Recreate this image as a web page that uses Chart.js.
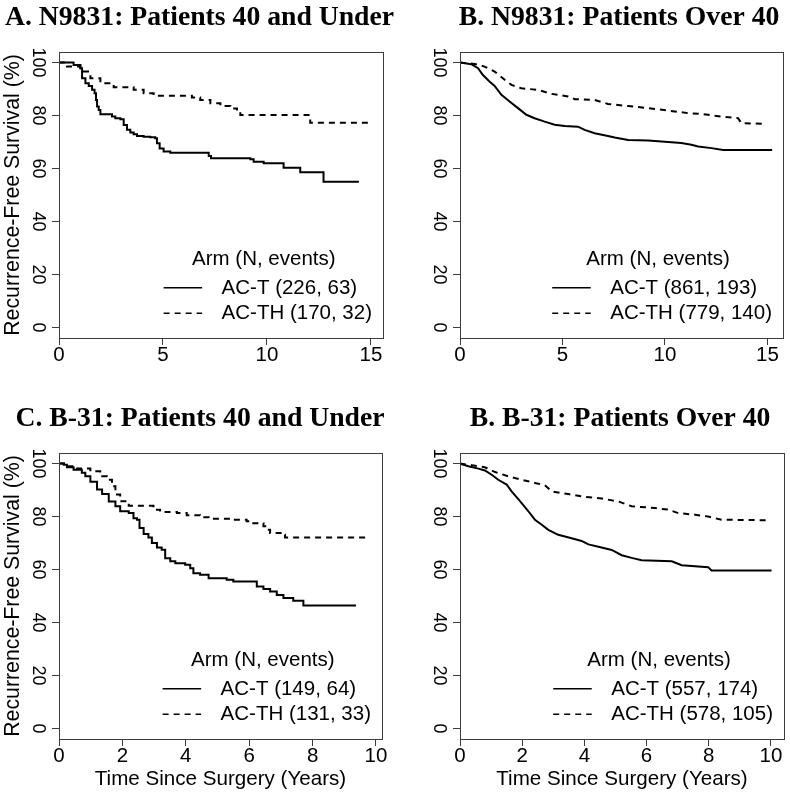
<!DOCTYPE html>
<html><head><meta charset="utf-8">
<script src="https://cdn.jsdelivr.net/npm/chart.js@4.4.1/dist/chart.umd.min.js"></script>
<style>
html,body{margin:0;padding:0;background:#fff;width:790px;height:795px;overflow:hidden;position:relative;}
.panel{position:absolute;}
canvas{display:block;}
</style></head><body>
<div class="panel" style="left:0;top:0;width:395px;height:395px"><canvas id="cA" width="395" height="395"></canvas></div>
<div class="panel" style="left:395px;top:0;width:395px;height:395px"><canvas id="cB" width="395" height="395"></canvas></div>
<div class="panel" style="left:0;top:401px;width:395px;height:394px"><canvas id="cC" width="395" height="394"></canvas></div>
<div class="panel" style="left:395px;top:401px;width:395px;height:394px"><canvas id="cD" width="395" height="394"></canvas></div>
<script>
// ---------- text ----------
const panelTitles = ['A. N9831: Patients 40 and Under', 'B. N9831: Patients Over 40', 'C. B-31: Patients 40 and Under', 'B. B-31: Patients Over 40'];
const legendTitle = 'Arm (N, events)';
const legendA = ['AC-T (226, 63)', 'AC-TH (170, 32)'];
const legendB = ['AC-T (861, 193)', 'AC-TH (779, 140)'];
const legendC = ['AC-T (149, 64)', 'AC-TH (131, 33)'];
const legendD = ['AC-T (557, 174)', 'AC-TH (578, 105)'];
const yAxisTitle = 'Recurrence-Free Survival (%)';
const xAxisTitle = 'Time Since Surgery (Years)';

// ---------- ticks ----------
const yTicks = [0, 20, 40, 60, 80, 100];
const xTicksN9831 = [0, 5, 10, 15];
const xTicksB31 = [0, 2, 4, 6, 8, 10];

// ---------- A: N9831, 40 and under ----------
const timeA_ACT = [0, 0.7, 1.03, 1.11, 1.27, 1.43, 1.59, 1.71, 1.78, 1.83, 1.91, 1.99, 2.55, 2.71, 2.95, 3.11, 3.27, 3.43, 3.59, 3.75, 4.07, 4.39, 4.63, 4.71, 4.84, 5.03, 5.35, 7.2, 7.31, 9.2, 9.36, 9.84, 10.8, 11.6, 12.72, 14.42];
const survA_ACT = [100, 99.1, 97.9, 94.1, 92.2, 91.2, 89.7, 88.4, 85.9, 83.4, 82.1, 80.5, 79.6, 79.0, 78.6, 76.4, 74.6, 73.6, 72.9, 72.3, 72.0, 71.8, 71.4, 69.5, 67.6, 66.4, 66.0, 64.7, 63.9, 63.5, 62.6, 62.0, 60.3, 58.6, 55.0, 55.0];
const timeA_ACTH = [0, 0.38, 1.03, 1.51, 1.99, 2.63, 3.59, 4.07, 4.55, 6.39, 6.79, 7.28, 7.76, 8.24, 8.56, 8.72, 12.08, 15.0];
const survA_ACTH = [100, 98.5, 96.6, 94.1, 92.2, 90.7, 89.7, 88.4, 87.5, 86.8, 85.9, 84.6, 83.6, 82.7, 81.5, 80.2, 77.3, 77.3];

// ---------- B: N9831, over 40 ----------
const timeB_ACT = [0, 0.55, 0.88, 1.12, 1.45, 1.69, 2.02, 2.42, 2.83, 3.24, 3.64, 4.13, 4.62, 5.11, 5.76, 6.08, 6.57, 7.22, 7.55, 8.2, 9.18, 9.83, 10.8, 11.29, 11.62, 12.27, 12.84, 15.23];
const survB_ACT = [100, 99.4, 97.9, 95.3, 92.8, 91.2, 87.8, 85.3, 82.8, 80.3, 79.0, 77.7, 76.5, 76.1, 75.8, 74.6, 73.3, 72.3, 71.7, 70.8, 70.6, 70.2, 69.6, 69.0, 68.3, 67.7, 67.0, 67.0];
const timeB_ACTH = [0, 0.72, 1.2, 1.69, 2.18, 2.51, 2.99, 3.81, 4.46, 5.27, 5.6, 6.57, 7.22, 8.2, 9.18, 10.15, 11.13, 11.78, 12.1, 12.75, 13.57, 13.73, 14.95];
const survB_ACTH = [100, 99.5, 98.5, 96.6, 93.5, 91.6, 90.3, 89.7, 88.2, 87.2, 86.2, 85.9, 84.4, 83.6, 82.8, 81.9, 80.9, 80.6, 80.3, 79.6, 79.0, 77.1, 76.9];

// ---------- C: B-31, 40 and under ----------
const timeC_ACT = [0, 0.15, 0.25, 0.46, 0.72, 0.83, 0.99, 1.2, 1.36, 1.57, 1.78, 1.93, 2.2, 2.35, 2.46, 2.54, 2.67, 2.82, 2.93, 3.09, 3.24, 3.35, 3.51, 3.67, 3.98, 4.14, 4.24, 4.45, 4.72, 5.29, 5.5, 6.24, 6.45, 6.66, 6.87, 7.08, 7.39, 7.71, 9.37];
const survC_ACT = [100, 99.6, 98.6, 97.7, 96.5, 95.2, 93.1, 90.2, 88.5, 85.7, 83.9, 82.0, 81.3, 79.4, 78.8, 75.7, 73.4, 72.1, 70.0, 68.3, 67.5, 64.3, 63.1, 62.4, 61.8, 60.5, 58.6, 58.0, 56.7, 56.1, 55.5, 53.6, 52.6, 51.7, 50.4, 49.2, 48.2, 46.4, 46.4];
const timeC_ACTH = [0, 0.25, 0.57, 0.99, 1.3, 1.51, 1.67, 1.78, 1.93, 2.2, 2.98, 3.19, 3.72, 4.03, 4.45, 4.72, 5.5, 5.92, 6.13, 6.45, 6.55, 6.66, 7.08, 7.13, 9.74];
const survC_ACTH = [100, 99.0, 98.1, 97.1, 95.2, 93.9, 91.4, 88.3, 85.8, 84.1, 82.6, 81.7, 81.3, 80.5, 79.7, 79.2, 78.8, 78.2, 77.5, 76.3, 75.0, 73.8, 73.1, 72.1, 72.1];

// ---------- D: B-31, over 40 ----------
const timeD_ACT = [0, 0.27, 0.59, 0.8, 1.02, 1.23, 1.5, 1.66, 1.93, 2.2, 2.41, 2.63, 2.84, 3.16, 3.59, 3.91, 4.13, 4.45, 4.88, 5.2, 5.52, 5.84, 6.81, 7.13, 7.98, 8.09, 10.02];
const survD_ACT = [100, 99.0, 98.1, 97.4, 95.8, 93.9, 92.1, 89.5, 85.8, 82.0, 78.8, 76.9, 75.0, 73.1, 71.8, 70.8, 69.5, 68.6, 67.4, 65.4, 64.4, 63.5, 63.1, 61.6, 60.9, 59.6, 59.6];
const timeD_ACTH = [0, 0.38, 0.8, 1.13, 1.55, 1.98, 2.41, 2.73, 2.95, 3.48, 3.91, 4.56, 5.09, 5.52, 6.27, 6.7, 7.02, 7.56, 7.98, 8.41, 9.91];
const survD_ACTH = [100, 99.4, 98.6, 96.8, 95.2, 93.9, 92.7, 91.8, 89.5, 88.5, 87.6, 86.8, 85.7, 83.9, 83.2, 82.6, 81.3, 80.7, 80.0, 78.8, 78.6];

// ---------- rendering ----------
const SANS = '"Liberation Sans", Arial, Helvetica, sans-serif';
const SERIF = '"Liberation Serif", "Times New Roman", serif';
const toXY = (t, s) => t.map((v, i) => ({x: v, y: s[i]}));

const decorPlugin = {
  id: 'panelDecor',
  afterDraw(chart, args, o) {
    const ctx = chart.ctx, a = chart.chartArea;
    ctx.save();
    ctx.setLineDash([]);
    ctx.strokeStyle = '#3c3c3c';
    ctx.lineWidth = 1;
    ctx.strokeRect(Math.round(a.left) + 0.5, Math.round(a.top) + 0.5, Math.round(a.right - a.left), Math.round(a.bottom - a.top));
    // panel title
    ctx.fillStyle = '#000';
    ctx.font = 'bold 27.7px ' + SERIF;
    ctx.textAlign = 'center';
    ctx.textBaseline = 'alphabetic';
    ctx.fillText(o.title, o.titleX, o.titleY);
    // legend
    ctx.font = '20.5px ' + SANS;
    const w = Math.max(...o.items.map(s => ctx.measureText(s).width));
    const textStart = a.right - 11 - w;
    const lineStart = textStart - 58, lineEnd = textStart - 19.5;
    ctx.textAlign = 'center';
    ctx.fillText(legendTitle, (lineStart + textStart + w) / 2 - 4, a.bottom - 73);
    ctx.textAlign = 'left';
    const rows = [a.bottom - 44, a.bottom - 19];
    const lines = [a.bottom - 50.3, a.bottom - 24.7];
    o.items.forEach((s, i) => {
      ctx.fillText(s, textStart, rows[i]);
      ctx.beginPath();
      ctx.strokeStyle = '#000';
      ctx.lineWidth = 1.5;
      ctx.setLineDash(i === 1 ? [6, 5] : []);
      ctx.moveTo(lineStart, lines[i]);
      ctx.lineTo(lineEnd, lines[i]);
      ctx.stroke();
    });
    ctx.restore();
  }
};

function makeChart(id, c) {
  const gridOpts = {display: true, drawOnChartArea: false, drawTicks: true, tickLength: 7, color: '#3c3c3c', lineWidth: 1};
  return new Chart(document.getElementById(id), {
    type: 'line',
    data: {datasets: [
      {label: c.items[0], data: toXY(c.t1, c.s1), borderColor: '#000', borderWidth: 2, stepped: c.stepped, pointRadius: 0, fill: false},
      {label: c.items[1], data: toXY(c.t2, c.s2), borderColor: '#000', borderWidth: 2, borderDash: [6, 5], stepped: c.stepped, pointRadius: 0, fill: false}
    ]},
    options: {
      responsive: false, animation: false, devicePixelRatio: 1,
      layout: {padding: {left: 0, right: c.padRight, top: 52, bottom: 0}},
      plugins: {
        legend: {display: false}, tooltip: {enabled: false}, title: {display: false},
        panelDecor: {title: c.title, titleX: c.titleX, titleY: 25, items: c.items}
      },
      scales: {
        x: {
          type: 'linear', position: 'bottom', min: 0, max: c.xMax,
          afterBuildTicks: s => { s.ticks = c.xTicks.map(v => ({value: v})); },
          afterFit: s => { s.height = c.xAxisHeight; },
          grid: gridOpts, border: {display: false},
          ticks: {autoSkip: false, minRotation: 0, maxRotation: 0, padding: -2, color: '#000', font: {family: SANS, size: 20.5}},
          title: {display: !!c.xTitle, text: c.xTitle || '', color: '#000', font: {family: SANS, size: 20.6}, padding: {top: 0, bottom: 3}}
        },
        y: {
          type: 'linear', position: 'left', min: -4, max: 104,
          afterBuildTicks: s => { s.ticks = yTicks.map(v => ({value: v})); },
          afterFit: s => { s.width = c.yAxisWidth; },
          grid: gridOpts, border: {display: false},
          ticks: {autoSkip: false, minRotation: -90, maxRotation: -90, crossAlign: 'center', padding: -0.5, color: '#000', font: {family: SANS, size: 18}},
          title: {display: !!c.yTitle, text: c.yTitle || '', color: '#000', font: {family: SANS, size: 21.3}, padding: {top: 0, bottom: 0}}
        }
      }
    },
    plugins: [decorPlugin]
  });
}

makeChart('cA', {title: panelTitles[0], titleX: 199.5, items: legendA, t1: timeA_ACT, s1: survA_ACT, t2: timeA_ACTH, s2: survA_ACTH,
  stepped: true, xMax: 15.58, xTicks: xTicksN9831, padRight: 12, yAxisWidth: 59, xAxisHeight: 57, yTitle: yAxisTitle, xTitle: null});
makeChart('cB', {title: panelTitles[1], titleX: 224, items: legendB, t1: timeB_ACT, s1: survB_ACT, t2: timeB_ACTH, s2: survB_ACTH,
  stepped: false, xMax: 15.76, xTicks: xTicksN9831, padRight: 7, yAxisWidth: 65, xAxisHeight: 57, yTitle: null, xTitle: null});
makeChart('cC', {title: panelTitles[2], titleX: 200, items: legendC, t1: timeC_ACT, s1: survC_ACT, t2: timeC_ACTH, s2: survC_ACTH,
  stepped: true, xMax: 10.19, xTicks: xTicksB31, padRight: 13, yAxisWidth: 59, xAxisHeight: 56, yTitle: yAxisTitle, xTitle: xAxisTitle});
makeChart('cD', {title: panelTitles[3], titleX: 225, items: legendD, t1: timeD_ACT, s1: survD_ACT, t2: timeD_ACTH, s2: survD_ACTH,
  stepped: false, xMax: 10.42, xTicks: xTicksB31, padRight: 6, yAxisWidth: 65, xAxisHeight: 56, yTitle: null, xTitle: xAxisTitle});
</script>
</body></html>
